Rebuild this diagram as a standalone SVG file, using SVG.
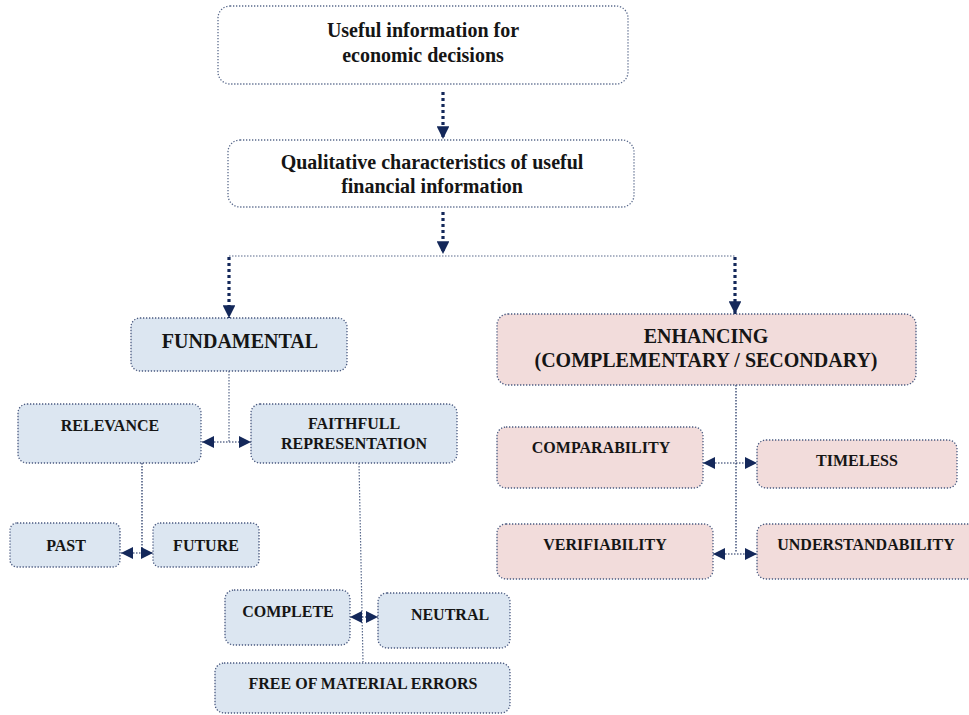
<svg xmlns="http://www.w3.org/2000/svg" width="969" height="715" viewBox="0 0 969 715">
<style>
text{font-family:"Liberation Serif","Times New Roman",serif;font-weight:bold;fill:#151515;text-anchor:middle}
.w{fill:#fff;stroke:#5a6a8c;stroke-width:1.3;stroke-dasharray:1.3 1.7}
.b{fill:#dce6f1;stroke:#4a5a80;stroke-width:1.3;stroke-dasharray:1.3 1.7}
.p{fill:#f2dcdb;stroke:#4a5a80;stroke-width:1.3;stroke-dasharray:1.3 1.7}
.t{font-size:20px}
.m{font-size:20px}
.s{font-size:16px}
.thick{fill:none;stroke:#14285a;stroke-width:3.2;stroke-dasharray:3 3}
.thin{fill:none;stroke:#14285a;stroke-width:1.2;stroke-dasharray:1.5 1.5}
.thinh{fill:none;stroke:#5a6a8c;stroke-width:1.2;stroke-dasharray:1.5 1.5}
</style>
<defs>
<marker id="ah" viewBox="0 0 10 10" refX="10" refY="5" markerWidth="4" markerHeight="4" orient="auto" markerUnits="strokeWidth"><path d="M0,0L10,5L0,10z" fill="#14285a"/></marker>
<marker id="as" viewBox="0 0 10 10" refX="10" refY="5" markerWidth="12" markerHeight="12" orient="auto-start-reverse" markerUnits="userSpaceOnUse"><path d="M0,0L10,5L0,10z" fill="#14285a"/></marker>
</defs>
<g id="connectors">
<line class="thick" x1="443" y1="92" x2="443" y2="139" marker-end="url(#ah)"/>
<line class="thick" x1="443" y1="212" x2="443" y2="254" marker-end="url(#ah)"/>
<line class="thinh" x1="229" y1="256" x2="735" y2="256"/>
<line class="thick" x1="229" y1="257" x2="229" y2="318" marker-end="url(#ah)"/>
<line class="thick" x1="735" y1="257" x2="735" y2="314" marker-end="url(#ah)"/>
<line class="thinh" x1="229" y1="371" x2="229" y2="442"/>
<line class="thin" x1="202" y1="442" x2="251" y2="442" marker-start="url(#as)" marker-end="url(#as)"/>
<line class="thin" x1="142" y1="463" x2="142" y2="553"/>
<line class="thin" x1="121" y1="553" x2="153" y2="553" marker-start="url(#as)" marker-end="url(#as)"/>
<line class="thinh" x1="359" y1="463" x2="363" y2="662"/>
<line class="thin" x1="350" y1="617" x2="378" y2="617" marker-start="url(#as)" marker-end="url(#as)"/>
<line class="thin" x1="736" y1="385" x2="736" y2="553"/>
<line class="thin" x1="703" y1="463" x2="757" y2="463" marker-start="url(#as)" marker-end="url(#as)"/>
<line class="thin" x1="713" y1="554" x2="757" y2="554" marker-start="url(#as)" marker-end="url(#as)"/>
</g>
<g id="n-useful"><rect class="w" x="218" y="6" width="410" height="78" rx="12"/><text class="t" x="423" y="37">Useful information for</text><text class="t" x="423" y="62">economic decisions</text></g>
<g id="n-qualitative"><rect class="w" x="228" y="140" width="406" height="67" rx="12"/><text class="t" x="432" y="169">Qualitative characteristics of useful</text><text class="t" x="432" y="193">financial information</text></g>
<g id="n-fundamental"><rect class="b" x="131" y="318" width="216" height="53" rx="9"/><text class="m" x="240" y="348">FUNDAMENTAL</text></g>
<g id="n-enhancing"><rect class="p" x="497" y="314" width="419" height="71" rx="11"/><text class="m" x="706" y="343">ENHANCING</text><text class="m" x="706" y="367">(COMPLEMENTARY / SECONDARY)</text></g>
<g id="n-relevance"><rect class="b" x="18" y="404" width="183" height="59" rx="9"/><text class="s" x="110" y="431">RELEVANCE</text></g>
<g id="n-faithfull"><rect class="b" x="251" y="404" width="206" height="59" rx="9"/><text class="s" x="354" y="429">FAITHFULL</text><text class="s" x="354" y="449">REPRESENTATION</text></g>
<g id="n-past"><rect class="b" x="10" y="523" width="110" height="44" rx="7"/><text class="s" x="66" y="551">PAST</text></g>
<g id="n-future"><rect class="b" x="153" y="523" width="106" height="44" rx="7"/><text class="s" x="206" y="551">FUTURE</text></g>
<g id="n-complete"><rect class="b" x="225" y="590" width="125" height="55" rx="9"/><text class="s" x="288" y="617">COMPLETE</text></g>
<g id="n-neutral"><rect class="b" x="378" y="593" width="132" height="55" rx="9"/><text class="s" x="450" y="620">NEUTRAL</text></g>
<g id="n-free"><rect class="b" x="215" y="663" width="295" height="50" rx="9"/><text class="s" x="363" y="689">FREE OF MATERIAL ERRORS</text></g>
<g id="n-comparability"><rect class="p" x="497" y="427" width="206" height="61" rx="9"/><text class="s" x="601" y="453">COMPARABILITY</text></g>
<g id="n-timeless"><rect class="p" x="757" y="440" width="200" height="48" rx="9"/><text class="s" x="857" y="466">TIMELESS</text></g>
<g id="n-verifiability"><rect class="p" x="497" y="524" width="216" height="55" rx="9"/><text class="s" x="605" y="550">VERIFIABILITY</text></g>
<g id="n-understandability"><rect class="p" x="757" y="524" width="220" height="55" rx="9"/><text class="s" x="866" y="550">UNDERSTANDABILITY</text></g>
</svg>
